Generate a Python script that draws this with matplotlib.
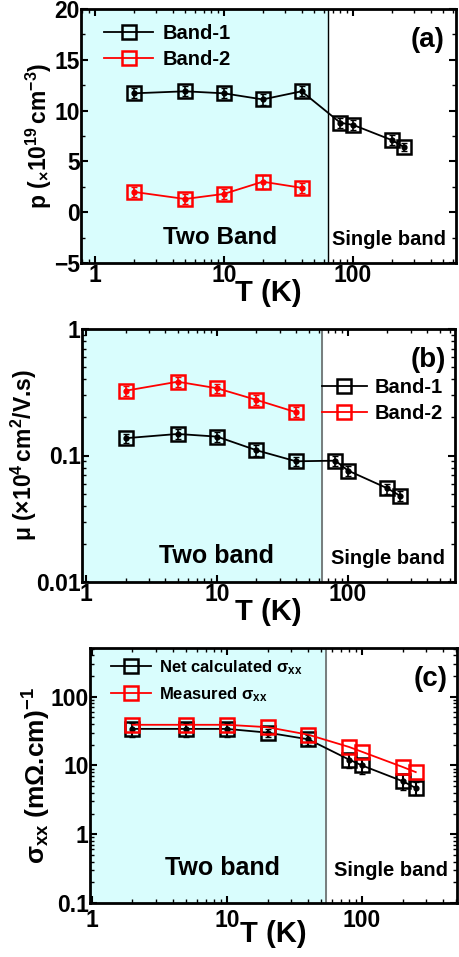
import matplotlib
matplotlib.use("Agg")
import matplotlib.pyplot as plt
import numpy as np
from matplotlib.ticker import LogLocator, NullFormatter, FixedLocator, MultipleLocator

plt.rcParams['font.family'] = ['Liberation Sans', 'DejaVu Sans']
plt.rcParams['font.weight'] = 'bold'
plt.rcParams['mathtext.fontset'] = 'custom'
plt.rcParams['mathtext.rm'] = 'Liberation Sans:bold'
plt.rcParams['mathtext.it'] = 'Liberation Sans:bold'
plt.rcParams['mathtext.bf'] = 'Liberation Sans:bold'

# ---- data ----
T_all = [2, 5, 10, 20, 40, 80, 100, 200, 250]
T_two = [2, 5, 10, 20, 40]

p_band1 = [11.7, 11.9, 11.7, 11.1, 11.9, 8.8, 8.6, 7.1, 6.4]
p_band1_err = [0.5, 0.5, 0.5, 0.5, 0.5, 0.5, 0.5, 0.5, 0.4]
p_band2 = [2.0, 1.3, 1.8, 3.0, 2.4]
p_band2_err = [0.5, 0.5, 0.5, 0.7, 0.5]

mu_band1 = [0.137, 0.148, 0.141, 0.110, 0.090, 0.091, 0.076, 0.055, 0.048]
mu_band1_err = [0.012, 0.013, 0.012, 0.010, 0.008, 0.008, 0.007, 0.005, 0.004]
mu_band2 = [0.325, 0.383, 0.34, 0.275, 0.22]
mu_band2_err = [0.03, 0.035, 0.03, 0.025, 0.02]

sig_calc = [34, 34, 34, 30, 24, 12.2, 10.0, 5.9, 4.7]
sig_calc_err = [8, 8, 8, 4, 4, 3, 2.5, 1.5, 1.0]
sig_meas = [39, 39, 39, 36, 28, 18.6, 15.8, 9.5, 8.0]

W, H = 459, 957
fig = plt.figure(figsize=(W/100, H/100), dpi=100)

def ax_rect(l, r, t, b):
    return [l/W, 1-b/H, (r-l)/W, (b-t)/H]

shade = '#d9fdfd'
tick_fs = 16.5
xlab_fs = 21

def style(ax, xpad=1):
    for s in ax.spines.values():
        s.set_linewidth(2.0)
    ax.tick_params(which='both', direction='in', top=True, right=True, labelsize=tick_fs)
    ax.tick_params(which='major', length=5, width=1.5, pad=1)
    ax.tick_params(axis='x', which='major', pad=xpad)
    ax.tick_params(which='minor', length=3, width=1.0)
    for lbl in ax.get_xticklabels() + ax.get_yticklabels():
        lbl.set_fontweight('bold')

def xlog(ax, lo, hi):
    ax.set_xscale('log')
    ax.set_xlim(lo, hi)
    ax.xaxis.set_major_locator(FixedLocator([1, 10, 100]))
    ax.xaxis.set_minor_locator(LogLocator(base=10, subs=np.arange(2, 10)))
    ax.xaxis.set_minor_formatter(NullFormatter())
    ax.set_xticklabels(['1', '10', '100'])

msq = 10
mk = dict(marker='s', markersize=msq, markerfacecolor='none', markeredgewidth=1.8, linewidth=1.3)

# ---- panel (a) ----
ax = fig.add_axes(ax_rect(81, 456, 9, 263))
xlog(ax, 0.78, 630)
ax.set_ylim(-5, 20)
ax.yaxis.set_major_locator(MultipleLocator(5))
ax.yaxis.set_minor_locator(MultipleLocator(2.5))
ax.axvspan(0.78, 64, color=shade, zorder=0)
ax.axvline(64, color='black', lw=1.0, zorder=1)
ax.plot(T_all, p_band1, color='black', label='Band-1', zorder=3, **mk)
ax.plot(T_two, p_band2, color='red', label='Band-2', zorder=3, **mk)
ax.errorbar(T_all, p_band1, yerr=p_band1_err, fmt='o', color='black', ms=3.5, capsize=2.5, elinewidth=1.2, zorder=4)
ax.errorbar(T_two, p_band2, yerr=p_band2_err, fmt='o', color='red', ms=3.5, capsize=2.5, elinewidth=1.2, zorder=4)
ax.set_xlabel('T (K)', fontsize=xlab_fs, fontweight='bold', labelpad=-6)
ax.set_ylabel(r'p $(_{\times}10^{19}\,$cm$^{-3})$', fontsize=16.5, fontweight='bold', labelpad=0)
ax.legend(loc='upper left', bbox_to_anchor=(0.03, 0.99), frameon=False,
          handlelength=2.4, borderaxespad=0.2, labelspacing=0.35, handletextpad=0.5,
          prop={'weight': 'bold', 'size': 14.5})
ax.text(0.97, 0.93, '(a)', transform=ax.transAxes, ha='right', va='top', fontsize=20, fontweight='bold')
ax.text(0.37, 0.055, 'Two Band', transform=ax.transAxes, ha='center', va='bottom', fontsize=17.5, fontweight='bold')
ax.text(0.82, 0.055, 'Single band', transform=ax.transAxes, ha='center', va='bottom', fontsize=14.5, fontweight='bold')
style(ax)

# ---- panel (b) ----
ax = fig.add_axes(ax_rect(82, 455, 329, 582))
xlog(ax, 0.93, 656)
ax.set_yscale('log')
ax.set_ylim(0.01, 1)
ax.yaxis.set_major_locator(FixedLocator([0.01, 0.1, 1]))
ax.yaxis.set_minor_locator(LogLocator(base=10, subs=np.arange(2, 10)))
ax.yaxis.set_minor_formatter(NullFormatter())
ax.set_yticklabels(['0.01', '0.1', '1'])
ax.axvspan(0.93, 63, color=shade, zorder=0)
ax.axvline(63, color='#666666', lw=1.2, zorder=1)
ax.plot(T_all, mu_band1, color='black', label='Band-1', zorder=3, **mk)
ax.plot(T_two, mu_band2, color='red', label='Band-2', zorder=3, **mk)
ax.errorbar(T_all, mu_band1, yerr=mu_band1_err, fmt='o', color='black', ms=3.5, capsize=2.5, elinewidth=1.2, zorder=4)
ax.errorbar(T_two, mu_band2, yerr=mu_band2_err, fmt='o', color='red', ms=3.5, capsize=2.5, elinewidth=1.2, zorder=4)
ax.set_xlabel('T (K)', fontsize=xlab_fs, fontweight='bold', labelpad=-6)
ax.set_ylabel(r'$\mu$ $(\times10^{4}\,$cm$^{2}$/V.s)', fontsize=16.5, fontweight='bold', labelpad=-2)
ax.legend(loc='upper right', bbox_to_anchor=(1.0, 0.855), frameon=False,
          handlelength=2.2, borderaxespad=0.2, labelspacing=0.35, handletextpad=0.4,
          prop={'weight': 'bold', 'size': 14.5})
ax.text(0.975, 0.93, '(b)', transform=ax.transAxes, ha='right', va='top', fontsize=20, fontweight='bold')
ax.text(0.36, 0.055, 'Two band', transform=ax.transAxes, ha='center', va='bottom', fontsize=18, fontweight='bold')
ax.text(0.82, 0.055, 'Single band', transform=ax.transAxes, ha='center', va='bottom', fontsize=14.5, fontweight='bold')
style(ax)

# ---- panel (c) ----
ax = fig.add_axes(ax_rect(90, 457, 648, 903))
xlog(ax, 0.97, 505)
ax.set_yscale('log')
ax.set_ylim(0.1, 510)
ax.yaxis.set_major_locator(FixedLocator([0.1, 1, 10, 100]))
ax.yaxis.set_minor_locator(LogLocator(base=10, subs=np.arange(2, 10)))
ax.yaxis.set_minor_formatter(NullFormatter())
ax.set_yticklabels(['0.1', '1', '10', '100'])
ax.axvspan(0.97, 54, color=shade, zorder=0)
ax.axvline(54, color='#666666', lw=1.2, zorder=1)
ax.plot(T_all, sig_calc, color='black', label=r'Net calculated $\sigma_{xx}$', zorder=3, **mk)
ax.errorbar(T_all, sig_calc, yerr=sig_calc_err, fmt='o', color='black', ms=3.5, capsize=2.5, elinewidth=1.5, zorder=4)
ax.plot(T_all, sig_meas, color='red', label=r'Measured $\sigma_{xx}$', zorder=5, **mk)
ax.set_xlabel('T (K)', fontsize=xlab_fs, fontweight='bold', labelpad=-8)
ax.set_ylabel(r'$\sigma_{xx}$ (m$\Omega$.cm)$^{-1}$', fontsize=19, fontweight='bold', labelpad=-2)
ax.legend(loc='upper left', bbox_to_anchor=(0.03, 1.0), frameon=False,
          handlelength=2.4, borderaxespad=0.2, labelspacing=0.5, handletextpad=0.5,
          prop={'weight': 'bold', 'size': 12})
ax.text(0.975, 0.93, '(c)', transform=ax.transAxes, ha='right', va='top', fontsize=20, fontweight='bold')
ax.text(0.36, 0.09, 'Two band', transform=ax.transAxes, ha='center', va='bottom', fontsize=18, fontweight='bold')
ax.text(0.82, 0.09, 'Single band', transform=ax.transAxes, ha='center', va='bottom', fontsize=14.5, fontweight='bold')
style(ax, xpad=4)

fig.savefig('out.png', dpi=100)
